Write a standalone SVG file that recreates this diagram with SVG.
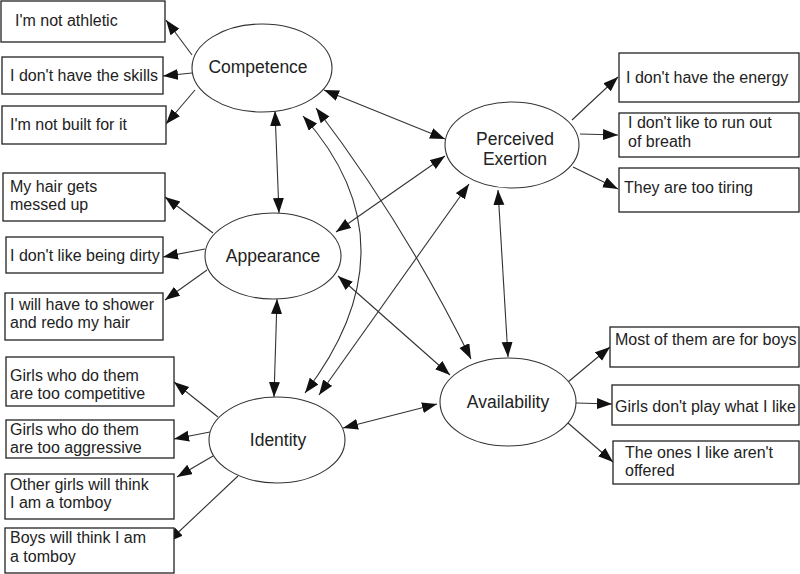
<svg xmlns="http://www.w3.org/2000/svg" width="800" height="574" viewBox="0 0 800 574">
<defs>
<marker id="ah" markerUnits="userSpaceOnUse" markerWidth="17" markerHeight="13" refX="15" refY="5.5" orient="auto-start-reverse">
<path d="M0,0 L15,5.5 L0,11 z" fill="#111"/>
</marker>
<style>
.box{fill:#fff;stroke:#222;stroke-width:1.3}
.ell{fill:#fff;stroke:#333;stroke-width:1.1}
.t{font-family:"Liberation Sans",Arial,sans-serif;font-size:16px;fill:#222}
.lt{font-family:"Liberation Sans",Arial,sans-serif;font-size:17.5px;fill:#222;text-anchor:middle}
.c{fill:none;stroke:#333;stroke-width:1.1;marker-end:url(#ah)}
.b{fill:none;stroke:#333;stroke-width:1.1;marker-start:url(#ah);marker-end:url(#ah)}
</style>
</defs>
<rect width="800" height="574" fill="#fff"/>
<g id="connectors">
<path class="c" d="M192,55 L166,20"/>
<path class="c" d="M192,73 L163,76"/>
<path class="c" d="M195,90 L166,124"/>
<path class="c" d="M213,233 L165,197"/>
<path class="c" d="M205,249 L163,257"/>
<path class="c" d="M207,270 L165,300"/>
<path class="c" d="M218,417 L174,382"/>
<path class="c" d="M210,432 L174,439"/>
<path class="c" d="M213,456 L177,477"/>
<path class="c" d="M238,476 L168,542"/>
<path class="c" d="M572,120 L618,77"/>
<path class="c" d="M580,134 L618,135"/>
<path class="c" d="M573,167 L618,189"/>
<path class="c" d="M568,382 L610,347"/>
<path class="c" d="M576,403 L612,404"/>
<path class="c" d="M568,423 L613,462"/>
<path class="b" d="M275,111 L279,213"/>
<path class="b" d="M277,299 L274,397"/>
<path class="b" d="M324,90 L445,139"/>
<path class="b" d="M303,116 Q418,245 305,393"/>
<path class="b" d="M316,108 Q405,225 471,359"/>
<path class="b" d="M336,232 L445,156"/>
<path class="b" d="M338,276 L450,375"/>
<path class="b" d="M319,395 L469,184"/>
<path class="b" d="M343,428 L437,404"/>
<path class="b" d="M498,190 L508,357"/>
</g>
<g id="competence"><ellipse class="ell" cx="262" cy="68" rx="70" ry="44"/><text class="lt" x="258" y="73">Competence</text></g>
<g id="appearance"><ellipse class="ell" cx="273" cy="256" rx="68" ry="43"/><text class="lt" x="273" y="262">Appearance</text></g>
<g id="identity"><ellipse class="ell" cx="277" cy="440" rx="68" ry="43"/><text class="lt" x="278" y="446">Identity</text></g>
<g id="perceived-exertion"><ellipse class="ell" cx="512" cy="145" rx="67" ry="43"/><text class="lt" x="515" y="145">Perceived</text><text class="lt" x="515" y="165">Exertion</text></g>
<g id="availability"><ellipse class="ell" cx="508" cy="402" rx="68" ry="44"/><text class="lt" x="508" y="408">Availability</text></g>
<g id="b-athletic"><rect class="box" x="1" y="1" width="164" height="41"/><text class="t" x="15" y="26">I'm not athletic</text></g>
<g id="b-skills"><rect class="box" x="2" y="57" width="161" height="37"/><text class="t" x="10" y="81">I don't have the skills</text></g>
<g id="b-built"><rect class="box" x="2" y="106" width="164" height="38"/><text class="t" x="10" y="130">I'm not built for it</text></g>
<g id="b-hair"><rect class="box" x="3" y="173" width="162" height="48"/><text class="t" x="10" y="192">My hair gets</text><text class="t" x="10" y="210">messed up</text></g>
<g id="b-dirty"><rect class="box" x="6" y="237" width="157" height="36"/><text class="t" x="10" y="261">I don't like being dirty</text></g>
<g id="b-shower"><rect class="box" x="5" y="293" width="158" height="47"/><text class="t" x="10" y="310">I will have to shower</text><text class="t" x="10" y="328">and redo my hair</text></g>
<g id="b-competitive"><rect class="box" x="6" y="357" width="168" height="49"/><text class="t" x="10" y="381">Girls who do them</text><text class="t" x="10" y="399">are too competitive</text></g>
<g id="b-aggressive"><rect class="box" x="6" y="420" width="168" height="38"/><text class="t" x="10" y="435">Girls who do them</text><text class="t" x="10" y="453">are too aggressive</text></g>
<g id="b-othergirls"><rect class="box" x="5" y="474" width="169" height="45"/><text class="t" x="10" y="490">Other girls will think</text><text class="t" x="10" y="508">I am a tomboy</text></g>
<g id="b-boys"><rect class="box" x="5" y="528" width="169" height="45"/><text class="t" x="10" y="543">Boys will think I am</text><text class="t" x="10" y="562">a tomboy</text></g>
<g id="b-energy"><rect class="box" x="619" y="53" width="180" height="49"/><text class="t" x="626" y="83">I don't have the energy</text></g>
<g id="b-breath"><rect class="box" x="619" y="113" width="180" height="44"/><text class="t" x="628" y="128">I don't like to run out</text><text class="t" x="628" y="147">of breath</text></g>
<g id="b-tiring"><rect class="box" x="619" y="168" width="180" height="44"/><text class="t" x="624" y="193">They are too tiring</text></g>
<g id="b-boysmost"><rect class="box" x="610" y="327" width="189" height="40"/><text class="t" x="615" y="345">Most of them are for boys</text></g>
<g id="b-play"><rect class="box" x="612" y="385" width="187" height="40"/><text class="t" x="615" y="412">Girls don't play what I like</text></g>
<g id="b-offered"><rect class="box" x="613" y="441" width="186" height="43"/><text class="t" x="625" y="458">The ones I like aren't</text><text class="t" x="625" y="476">offered</text></g>
</svg>
